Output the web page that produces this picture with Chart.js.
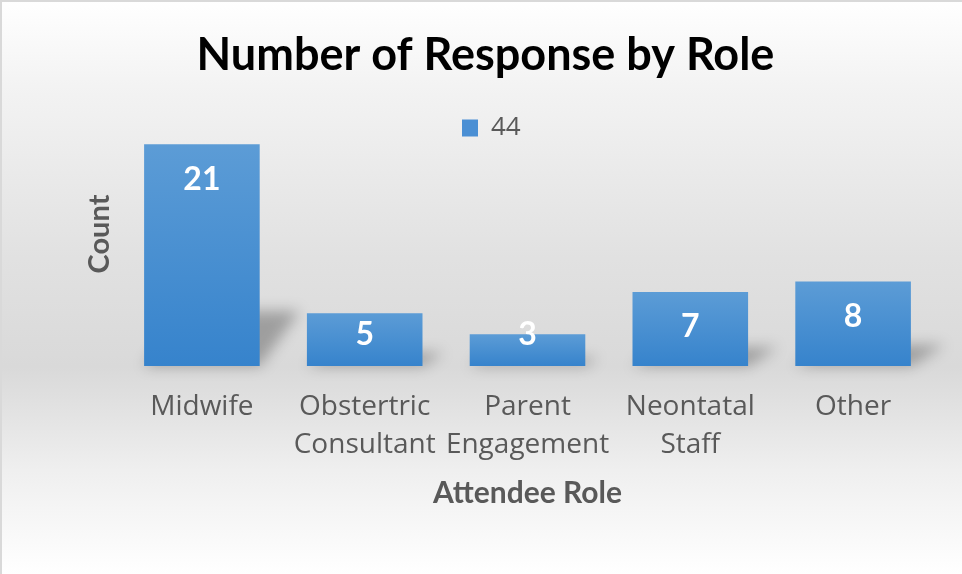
<!DOCTYPE html>
<html>
<head>
<meta charset="utf-8">
<script src="https://cdn.jsdelivr.net/npm/chart.js@4.4.1/dist/chart.umd.min.js"></script>
<style>
  html, body { margin: 0; padding: 0; background: #fff; }
  #wrap { width: 962px; height: 574px; }
</style>
</head>
<body>
<div id="wrap"><canvas id="roleChart" width="962" height="574"></canvas></div>
<script>
// chart data
const roles = ['Midwife', ['Obstertric', 'Consultant'], ['Parent', 'Engagement'], ['Neontatal', 'Staff'], 'Other'];
const counts = [21, 5, 3, 7, 8];
const seriesName = '44';

// grey backdrop + thin frame
const backdrop = {
    id: 'backdrop',
    beforeDraw(chart) {
        const c = chart.ctx, w = chart.width, h = chart.height;
        const g = c.createLinearGradient(0, 0, 0, h);
        g.addColorStop(0, '#ffffff');
        g.addColorStop(0.15, '#f3f3f3');
        g.addColorStop(0.45, '#e1e1e1');
        g.addColorStop(0.64, '#d9d9d9');
        g.addColorStop(0.82, '#efefef');
        g.addColorStop(1, '#ffffff');
        c.save();
        c.fillStyle = g;
        c.fillRect(0, 0, w, h);
        c.fillStyle = '#d9d9d9';
        c.fillRect(0, 0, 2, h);
        c.fillRect(0, 0, w, 2);
        c.restore();
    }
};

// soft perspective shadow behind each bar
const barShadow = {
    id: 'barShadow',
    beforeDatasetsDraw(chart) {
        const c = chart.ctx;
        chart.getDatasetMeta(0).data.forEach(bar => {
            const hgt = bar.base - bar.y;
            const l = bar.x - bar.width / 2, r = bar.x + bar.width / 2;
            const dx = Math.min(40, hgt * 0.4), dy = Math.min(55, hgt * 0.25);
            c.save();
            c.filter = 'blur(7px)';
            c.fillStyle = 'rgba(0,0,0,0.28)';
            c.beginPath();
            c.moveTo(l, bar.base);
            c.lineTo(r, bar.base);
            c.lineTo(r + dx, bar.base - dy);
            c.lineTo(l + dx, bar.base - dy);
            c.closePath();
            c.fill();
            c.restore();
        });
    }
};

// white values inside the top of the bars
const valueLabels = {
    id: 'valueLabels',
    afterDatasetsDraw(chart) {
        const c = chart.ctx;
        c.save();
        c.fillStyle = '#ffffff';
        c.font = 'bold 32px Lato';
        c.textAlign = 'center';
        c.textBaseline = 'middle';
        chart.getDatasetMeta(0).data.forEach((bar, i) => {
            const hgt = bar.base - bar.y;
            const off = Math.max(0, Math.min(35, hgt - 31));
            c.fillText(String(counts[i]), bar.x, bar.y + off);
        });
        c.restore();
    }
};

// legend sits inside the plot area, near the page centre
const legendShift = {
    id: 'legendShift',
    afterLayout(chart) {
        const lg = chart.legend;
        if (!lg) return;
        const ca = chart.chartArea;
        lg.left = ca.left + 329.5;
        lg.right = lg.left + (ca.right - ca.left);
        lg.top = ca.top + 1;
        lg.bottom = ca.bottom + 1;
    }
};

const el = document.getElementById('roleChart');
new Chart(el.getContext('2d'), {
    type: 'bar',
    data: {
        labels: roles,
        datasets: [{
            label: seriesName,
            data: counts,
            backgroundColor: ctx => {
                const chart = ctx.chart;
                if (!chart.chartArea || ctx.type !== 'data') return '#4a8fd4';
                const y = chart.scales.y;
                const g = chart.ctx.createLinearGradient(0, y.getPixelForValue(ctx.raw), 0, y.getPixelForValue(0));
                g.addColorStop(0, '#5c9cd6');
                g.addColorStop(1, '#3683cc');
                return g;
            },
            borderWidth: 0,
            barPercentage: 0.71,
            categoryPercentage: 1
        }]
    },
    options: {
        responsive: false,
        animation: false,
        devicePixelRatio: 1,
        layout: { padding: { left: 36.5, right: 27.5, top: 0, bottom: 0 } },
        scales: {
            x: {
                grid: { display: false, drawTicks: false },
                border: { display: false },
                ticks: {
                    color: '#595959',
                    font: { family: 'Open Sans', size: 28, lineHeight: 1.357 },
                    padding: 22,
                    maxRotation: 0,
                    autoSkip: false
                },
                title: {
                    display: true,
                    text: 'Attendee Role',
                    color: '#595959',
                    font: { family: 'Lato', size: 30, weight: 'bold', lineHeight: 1.2 },
                    padding: { top: 0, bottom: 63 }
                },
                afterFit: s => { s.height = 208; }
            },
            y: {
                min: 0,
                max: 25,
                grid: { display: false, drawTicks: false },
                border: { display: false },
                ticks: { display: false },
                title: {
                    display: true,
                    text: 'Count',
                    color: '#595959',
                    font: { family: 'Lato', size: 29, weight: 'bold', lineHeight: 1.2 },
                    padding: { top: 46, bottom: 0 }
                },
                afterFit: s => { s.width = 84; }
            }
        },
        plugins: {
            title: {
                display: true,
                text: 'Number of Response by Role',
                color: '#000000',
                font: { family: 'Lato', size: 45, weight: 'bold', lineHeight: 1.2 },
                padding: { top: 28, bottom: 20 }
            },
            legend: {
                position: 'chartArea',
                align: 'start',
                labels: {
                    color: '#595959',
                    font: { family: 'Open Sans', size: 26 },
                    boxWidth: 16,
                    boxHeight: 17,
                    padding: 12,
                    generateLabels: () => [{
                        text: seriesName,
                        fillStyle: '#4a8fd4',
                        strokeStyle: 'rgba(0,0,0,0)',
                        fontColor: '#595959',
                        lineWidth: 0,
                        datasetIndex: 0
                    }]
                }
            },
            tooltip: { enabled: false }
        }
    },
    plugins: [backdrop, barShadow, valueLabels, legendShift]
});
</script>
</body>
</html>
